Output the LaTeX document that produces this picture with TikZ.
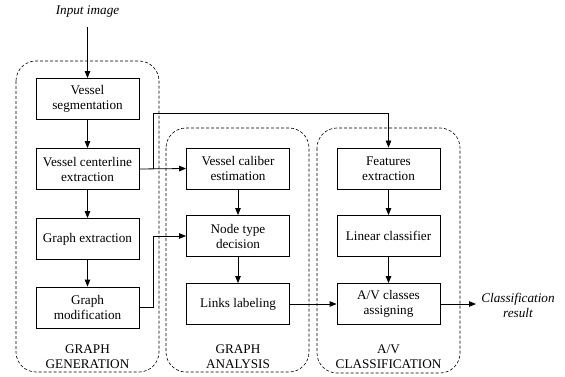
\documentclass[tikz,border=0pt]{standalone}
\usepackage{fontspec}
\setmainfont{Liberation Serif}
\usetikzlibrary{arrows.meta}
\begin{document}
\begin{tikzpicture}[x=1pt,y=-1pt,
  every node/.style={font=\rmfamily\fontsize{13.2}{15}\selectfont},
  box/.style={draw,line width=0.8pt,minimum width=103pt,minimum height=41pt,inner sep=1pt,align=center},
  group/.style={draw,dashed,dash pattern=on 3pt off 2pt,line width=0.6pt,rounded corners=20pt},
  lbl/.style={align=center},
  conn/.style={line width=0.8pt,-{Triangle[length=7pt,width=5.5pt]}}
]
\useasboundingbox (0,0) rectangle (565,377);
% groups
\draw[group] (16,61) rectangle (159,372);
\draw[group] (166,128) rectangle (309,372);
\draw[group] (317,128) rectangle (460,373);
% left column
\node[box] (seg) at (87.5,99) {Vessel\\segmentation};
\node[box] (cen) at (87.5,169) {Vessel centerline\\extraction};
\node[box] (gex) at (87.5,239) {Graph extraction};
\node[box] (gmod) at (87.5,307.5) {Graph\\modification};
% middle column
\node[box] (cal) at (238,168.5) {Vessel caliber\\estimation};
\node[box] (ntd) at (238,236) {Node type\\decision};
\node[box] (lnk) at (238,304) {Links labeling};
% right column
\node[box] (fea) at (388.5,168.5) {Features\\extraction};
\node[box] (lin) at (388.5,236) {Linear classifier};
\node[box] (avc) at (388.5,304) {A/V classes\\assigning};
% group labels
\node[lbl] (lg) at (87.5,357) {GRAPH\\GENERATION};
\node[lbl] (mg) at (238,357) {GRAPH\\ANALYSIS};
\node[lbl] (rg) at (388.5,357) {A/V\\CLASSIFICATION};
% texts
\node[font=\rmfamily\fontsize{13.2}{15}\selectfont\itshape] (in) at (87.5,12) {Input image};
\node[font=\rmfamily\fontsize{13.2}{15}\selectfont\itshape,align=center] (res) at (518,305.5) {Classification\\result};
\coordinate (inend) at (87.5,27);
\coordinate (resend) at (476,304);
\coordinate (split) at (153,169);
% connectors
\draw[conn] (inend) -- (seg.north);
\draw[conn] (seg) -- (cen);
\draw[conn] (cen) -- (gex);
\draw[conn] (gex) -- (gmod);
\draw[conn] (cal) -- (ntd);
\draw[conn] (ntd) -- (lnk);
\draw[conn] (fea) -- (lin);
\draw[conn] (lin) -- (avc);
\draw[conn] (cen.east) -- (cal.west);
\draw[conn] (split) -- (153,113) -| (fea.north);
\draw[conn] (gmod.east) -- (153,307.5) |- (ntd.west);
\draw[conn] (lnk.east) -- (avc.west);
\draw[conn] (avc.east) -- (resend);
\end{tikzpicture}
\end{document}
